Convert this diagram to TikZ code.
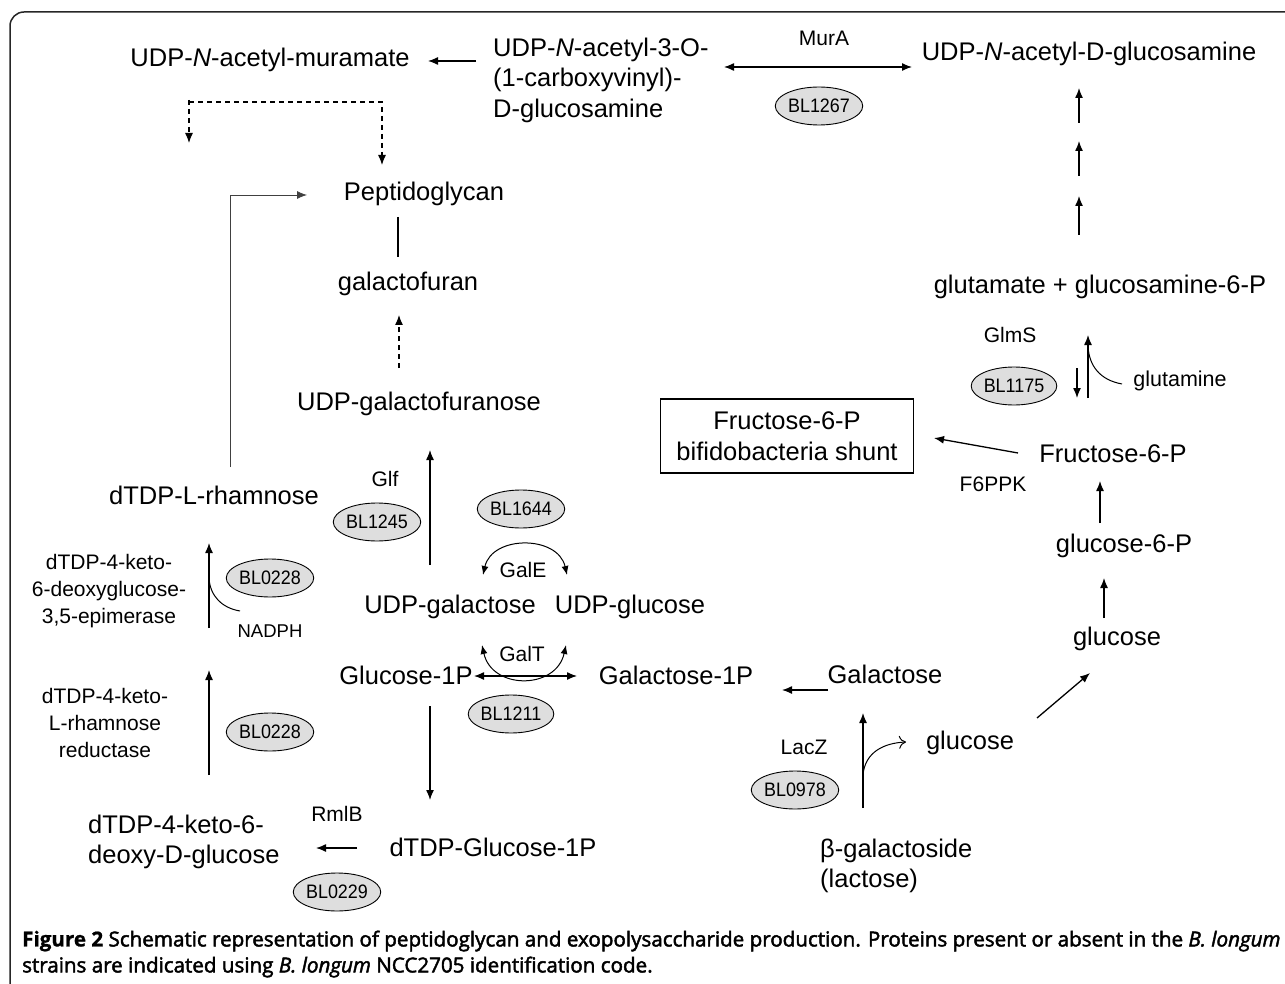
\documentclass[tikz,border=0pt]{standalone}
\usepackage{fontspec}
\setmainfont{Liberation Sans}
\newfontfamily\narrowfont[FakeStretch=0.92]{Liberation Sans}
\newfontfamily\capfont[FakeBold=2.2]{Open Sans}
\newfontfamily\capbold[FakeBold=1]{Open Sans Bold}
\usetikzlibrary{arrows.meta,shapes.geometric}
\tikzset{
  met/.style={font=\fontsize{25.5}{30.5}\selectfont, inner sep=0pt, yshift=-2pt},
  enz/.style={font=\fontsize{21}{27}\selectfont, inner sep=0pt, yshift=-1pt},
  enzl/.style={font=\fontsize{21}{27}\selectfont, inner sep=0pt, align=center, yshift=-1pt},
  bl/.style={ellipse, draw, line width=0.9pt, fill=black!13, minimum width=82pt, minimum height=38pt, inner sep=0pt, font=\narrowfont\fontsize{19.5}{19.5}\selectfont},
  arr/.style={-{Latex[length=10pt,width=8pt]}, line width=1.3pt},
  darr/.style={{Latex[length=10pt,width=8pt]}-{Latex[length=10pt,width=8pt]}, line width=1.3pt},
  dash arr/.style={-{Latex[length=10pt,width=8pt]}, line width=1.2pt, dash pattern=on 5pt off 4pt},
  cofactor/.style={line width=1pt},
  frame/.style={line width=1.5pt, draw=black!85, rounded corners=14pt},
  shuntbox/.style={draw, line width=1.2pt, font=\fontsize{25.5}{30.5}\selectfont, align=center, minimum width=253pt, minimum height=74pt, inner sep=0pt},
  capline/.style={anchor=west, inner sep=0pt, font=\capfont\fontsize{20.6}{22}\selectfont}
}
\begin{document}
\begin{tikzpicture}[x=1pt,y=-1pt]
\useasboundingbox (0,0) rectangle (1285,984);
\begin{scope}
\clip (0,0) rectangle (1285,984);
\draw[frame] (10,12) rectangle (1330,1000);
\end{scope}

% ---- top row
\node[met] (mur) at (270,58) {UDP-\textit{N}-acetyl-muramate};
\node[met, align=left, anchor=west] (cvg) at (493,78) {UDP-\textit{N}-acetyl-3-O-\\(1-carboxyvinyl)-\\D-glucosamine};
\node[enz] (mura) at (824,37) {MurA};
\node[bl] (bl1267) at (819,106) {BL1267};
\node[met] (nag) at (1089,52) {UDP-\textit{N}-acetyl-D-glucosamine};
\coordinate (c1s) at (476,61); \coordinate (c1e) at (428,61);
\draw[arr] (c1s) -- (c1e);
\coordinate (c2s) at (724,67); \coordinate (c2e) at (912,67);
\draw[darr] (c2s) -- (c2e);
\coordinate (u1s) at (1079,123); \coordinate (u1e) at (1079,88);
\coordinate (u2s) at (1079,176); \coordinate (u2e) at (1079,141);
\coordinate (u3s) at (1079,235); \coordinate (u3e) at (1079,196);
\draw[arr] (u1s) -- (u1e);
\draw[arr] (u2s) -- (u2e);
\draw[arr] (u3s) -- (u3e);

% dashed from muramate
\coordinate (d0) at (189,100); \coordinate (d1) at (189,143);
\coordinate (d2) at (189,102); \coordinate (d3) at (382,102); \coordinate (d4) at (382,165);
\draw[dash arr] (d0) -- (d1);
\draw[dash arr] (d2) -- (d3) -- (d4);

% ---- right column
\node[met] (glu6n) at (1100,285) {glutamate + glucosamine-6-P};
\node[enz] (glms) at (1010,334) {GlmS};
\node[bl] (bl1175) at (1014,386) {BL1175};
\node[font=\fontsize{21.5}{25}\selectfont, inner sep=0pt, yshift=-1pt] (gln) at (1180,380) {glutamine};
\coordinate (g1s) at (1077,368); \coordinate (g1e) at (1077,398);
\coordinate (g2s) at (1088,398); \coordinate (g2e) at (1088,335);
\draw[arr] (g1s) -- (g1e);
\draw[arr] (g2s) -- (g2e);
\coordinate (glnA) at (1122,384); \coordinate (glnB) at (1088,346);
\draw[cofactor] (glnA) .. controls (1100,380) and (1089,366) .. (glnB);

\node[met] (f6p) at (1113,452) {Fructose-6-P};
\node[shuntbox] (shunt) at (787,436) {Fructose-6-P\\bifidobacteria shunt};
\node[enz] (f6ppk) at (993,483) {F6PPK};
\coordinate (f1s) at (1018,453); \coordinate (f1e) at (934,438);
\draw[arr] (f1s) -- (f1e);

\node[met] (g6p) at (1124,544) {glucose-6-P};
\node[met] (glcR) at (1117,637) {glucose};
\coordinate (r1s) at (1100,523); \coordinate (r1e) at (1100,481);
\coordinate (r2s) at (1104,618); \coordinate (r2e) at (1104,578);
\coordinate (r3s) at (1037,718); \coordinate (r3e) at (1090,673);
\draw[arr] (r1s) -- (r1e);
\draw[arr] (r2s) -- (r2e);
\draw[arr] (r3s) -- (r3e);

% ---- lactose
\node[met] (gal) at (885,672) {Galactose};
\node[met] (gal1p) at (676,673) {Galactose-1P};
\node[met] (glcL) at (970,741) {glucose};
\node[enz] (lacz) at (804,746) {LacZ};
\node[bl] (bl0978) at (795,790) {BL0978};
\node[met, align=left, anchor=west] (lac) at (820,864) {β-galactoside\\(lactose)};
\coordinate (l1s) at (828,690); \coordinate (l1e) at (782,690);
\draw[arr] (l1s) -- (l1e);
\coordinate (l2s) at (863,808); \coordinate (l2e) at (863,713);
\draw[arr] (l2s) -- (l2e);
\coordinate (l3s) at (863,775); \coordinate (l3e) at (906,742);
\draw[cofactor, -{To[length=7pt,width=13pt]}] (l3s) .. controls (865,752) and (884,743) .. (l3e);

% ---- centre
\node[met] (pg) at (424,192) {Peptidoglycan};
\node[met] (galf) at (408,282) {galactofuran};
\node[met] (udpgf) at (419,402) {UDP-galactofuranose};
\node[met] (udpgal) at (450,605) {UDP-galactose};
\node[met] (udpglc) at (630,605) {UDP-glucose};
\node[met] (g1p) at (406,673) {Glucose-1P};
\node[enz] (glf) at (385,478) {Glf};
\node[bl] (bl1245) at (377,522) {BL1245};
\node[bl] (bl1644) at (521,509) {BL1644};
\node[enz] (gale) at (523,569) {GalE};
\node[enz] (galt) at (522,653) {GalT};
\node[bl] (bl1211) at (511,714) {BL1211};

\coordinate (p1s) at (398,217); \coordinate (p1e) at (398,257);
\draw[line width=1.2pt] (p1s) -- (p1e);
\coordinate (p2s) at (399,368); \coordinate (p2e) at (399,315);
\draw[dash arr] (p2s) -- (p2e);
\coordinate (p3s) at (430,565); \coordinate (p3e) at (430,450);
\draw[arr] (p3s) -- (p3e);
\coordinate (eL) at (483,575); \coordinate (eR) at (567,575);
\draw[cofactor, {Latex[length=9pt,width=7pt]}-{Latex[length=9pt,width=7pt]}] (eL) .. controls (492,535) and (558,535) .. (eR);
\coordinate (tL) at (482,645); \coordinate (tR) at (566,645);
\draw[cofactor, {Latex[length=9pt,width=7pt]}-{Latex[length=9pt,width=7pt]}] (tL) .. controls (492,690) and (556,690) .. (tR);
\coordinate (c3s) at (474,676); \coordinate (c3e) at (577,676);
\draw[darr] (c3s) -- (c3e);
\coordinate (c4s) at (430,706); \coordinate (c4e) at (430,800);
\draw[arr] (c4s) -- (c4e);

% ---- left column
\node[met] (rha) at (214,493) {dTDP-L-rhamnose};
\node[enzl] (epi) at (109,590) {dTDP-4-keto-\\6-deoxyglucose-\\3,5-epimerase};
\node[bl] (bl0228a) at (270,578) {BL0228};
\node[font=\fontsize{18.5}{20}\selectfont, inner sep=0pt, yshift=-1pt] (nadph) at (270,630) {NADPH};
\node[enzl] (red) at (105,722) {dTDP-4-keto-\\L-rhamnose\\reductase};
\node[bl] (bl0228b) at (270,732) {BL0228};
\node[met, align=left, anchor=west] (kdg) at (88,840) {dTDP-4-keto-6-\\deoxy-D-glucose};
\node[met] (tg1p) at (493,845) {dTDP-Glucose-1P};
\node[enz] (rmlb) at (337,813) {RmlB};
\node[bl] (bl0229) at (337,892) {BL0229};

\coordinate (m1s) at (209,628); \coordinate (m1e) at (209,543);
\draw[arr] (m1s) -- (m1e);
\coordinate (nA) at (240,611); \coordinate (nB) at (209,578);
\draw[cofactor] (nA) .. controls (222,608) and (210,596) .. (nB);
\coordinate (m2s) at (209,775); \coordinate (m2e) at (209,670);
\draw[arr] (m2s) -- (m2e);
\coordinate (m3s) at (357,848); \coordinate (m3e) at (316,848);
\draw[arr] (m3s) -- (m3e);
\coordinate (rh1) at (230,467); \coordinate (rh2) at (230,195); \coordinate (rh3) at (307,195);
\draw[line width=0.8pt, draw=black!75, -{Latex[length=10pt,width=8pt]}] (rh1) -- (rh2) -- (rh3);

% ---- caption
\node[capline] (cap1) at (22,941) {{\capbold Figure 2} Schematic representation of peptidoglycan and exopolysaccharide production. Proteins present or absent in the \textit{B. longum}};
\node[capline] (cap2) at (22,967) {strains are indicated using \textit{B. longum} NCC2705 identification code.};
\end{tikzpicture}
\end{document}
